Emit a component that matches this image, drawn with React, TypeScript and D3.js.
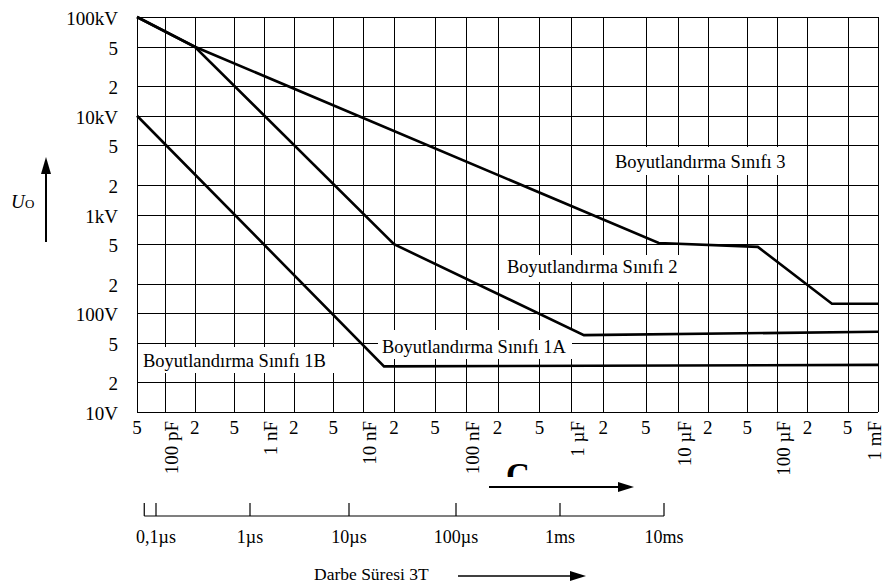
import React from "react";
import * as d3 from "d3";

// ---- grid / tick values ----
const capGrid = [5e-11, 1e-10, 2e-10, 5e-10, 1e-9, 2e-9, 5e-9, 1e-8, 2e-8, 5e-8, 1e-7, 2e-7, 5e-7, 1e-6, 2e-6, 5e-6, 1e-5, 2e-5, 5e-5, 1e-4, 2e-4, 5e-4, 1e-3];
const capLabels = ["5", "100 pF", "2", "5", "1 nF", "2", "5", "10 nF", "2", "5", "100 nF", "2", "5", "1 µF", "2", "5", "10 µF", "2", "5", "100 µF", "2", "5", "1 mF"];
const voltGrid = [10, 20, 50, 100, 200, 500, 1000, 2000, 5000, 1e4, 2e4, 5e4, 1e5];
const voltLabels = ["10V", "2", "5", "100V", "2", "5", "1kV", "2", "5", "10kV", "2", "5", "100kV"];
const timeTicks = [1e-7, 1e-6, 1e-5, 1e-4, 1e-3, 1e-2];
const timeLabels = ["0,1µs", "1µs", "10µs", "100µs", "1ms", "10ms"];
const timeAxisStart = 7.5e-8;

// ---- series (capacitance in F, voltage in V) ----
const class3C = [5e-11, 2e-10, 6.6e-6, 6.4e-5, 3.5e-4, 1e-3];
const class3U = [1e5, 5e4, 515, 470, 125, 125];
const class2C = [5e-11, 2e-10, 2e-8, 1.32e-6, 1e-3];
const class2U = [1e5, 5e4, 500, 60, 65];
const class1BC = [5e-11, 1.6e-8, 1e-3];
const class1BU = [1e4, 29, 30];

const FONT = "'Liberation Serif', 'Times New Roman', serif";

export default function App() {
  const x = d3
    .scaleLog()
    .domain([5e-11, 1e-10, 1e-9, 1e-8, 1e-7, 1e-6, 1e-5, 1e-4, 1e-3])
    .range([137, 165, 264, 363, 466, 571, 678, 777, 878]);
  const y = d3.scaleLog().domain([10, 1e5]).range([412, 17]);
  const t = d3
    .scaleLog()
    .domain([1e-7, 1e-6, 1e-5, 1e-4, 1e-3, 1e-2])
    .range([156, 250, 349, 456, 560, 664]);

  const line = d3
    .line<[number, number]>()
    .x((d) => x(d[0]))
    .y((d) => y(d[1]));
  const mk = (c: number[], u: number[]) => c.map((v, i) => [v, u[i]] as [number, number]);
  const series = [mk(class3C, class3U), mk(class2C, class2U), mk(class1BC, class1BU)];

  const x0 = x(capGrid[0]);
  const x1 = x(capGrid[capGrid.length - 1]);
  const yTop = y(voltGrid[voltGrid.length - 1]);
  const yBot = y(voltGrid[0]);

  const boxes = [
    { x: 610, y: 147, w: 180, h: 28, tx: 615, ty: 168, text: "Boyutlandırma Sınıfı 3" },
    { x: 503, y: 255, w: 179, h: 27, tx: 507, ty: 273, text: "Boyutlandırma Sınıfı 2" },
    { x: 140, y: 347, w: 197, h: 26, tx: 143, ty: 367, text: "Boyutlandırma Sınıfı 1B" },
    { x: 378, y: 330, w: 194, h: 29, tx: 382, ty: 353, text: "Boyutlandırma Sınıfı 1A" },
  ];

  return (
    <svg
      width={888}
      height={585}
      style={{ position: "absolute", left: 0, top: 0, background: "#fff" }}
      fontFamily={FONT}
    >
      <rect x={0} y={0} width={888} height={585} fill="#fff" />
      <defs>
        <clipPath id="cclip">
          <rect x={490} y={440} width={60} height={37} />
        </clipPath>
      </defs>
      {/* grid */}
      <g stroke="#000" strokeWidth={1} shapeRendering="crispEdges">
        {capGrid.map((c, i) => (
          <line key={"v" + i} x1={Math.round(x(c)) + 0.5} x2={Math.round(x(c)) + 0.5} y1={yTop} y2={yBot} />
        ))}
        {voltGrid.map((v, i) => (
          <line key={"h" + i} x1={x0} x2={x1} y1={Math.round(y(v)) + 0.5} y2={Math.round(y(v)) + 0.5} />
        ))}
      </g>
      {/* label boxes */}
      {boxes.map((b, i) => (
        <rect key={"b" + i} x={b.x} y={b.y} width={b.w} height={b.h} fill="#fff" />
      ))}
      {/* curves */}
      {series.map((s, i) => (
        <path key={"s" + i} d={line(s) || ""} fill="none" stroke="#000" strokeWidth={2.6} strokeLinejoin="miter" />
      ))}
      {boxes.map((b, i) => (
        <text key={"t" + i} x={b.tx} y={b.ty} fontSize={18.5} fill="#000">
          {b.text}
        </text>
      ))}
      {/* y labels */}
      {voltGrid.map((v, i) => (
        <text key={"yl" + i} x={118} y={y(v) + 8} textAnchor="end" fontSize={19} fill="#000">
          {voltLabels[i]}
        </text>
      ))}
      {/* x labels */}
      {capGrid.map((c, i) =>
        capLabels[i].length > 1 ? (
          <text
            key={"xl" + i}
            transform={`translate(${Math.min(x(c) + 13, 881)},421) rotate(-90)`}
            textAnchor="end"
            fontSize={19}
            fill="#000"
          >
            {capLabels[i]}
          </text>
        ) : (
          <text key={"xl" + i} x={x(c)} y={434} textAnchor="middle" fontSize={19} fill="#000">
            {capLabels[i]}
          </text>
        )
      )}
      {/* U_O axis title */}
      <text x={11} y={208} fontSize={19} fontStyle="italic" fill="#000">
        U
      </text>
      <text x={25} y={208} fontSize={13} fill="#000">
        O
      </text>
      <line x1={46} x2={46} y1={242} y2={170} stroke="#000" strokeWidth={2} />
      <path d="M46,157 L51,174 L41,174 Z" fill="#000" />
      {/* C arrow */}
      <text x={506} y={486} fontSize={33} fontWeight="bold" fill="#000" clipPath="url(#cclip)">
        C
      </text>
      <line x1={489} x2={620} y1={487} y2={487} stroke="#000" strokeWidth={2} />
      <path d="M634,487 L618,482 L618,492 Z" fill="#000" />
      {/* time axis */}
      <g stroke="#000" strokeWidth={1.2}>
        <line x1={t(timeAxisStart)} x2={t(timeTicks[timeTicks.length - 1])} y1={516} y2={516} />
        <line x1={t(timeAxisStart)} x2={t(timeAxisStart)} y1={503} y2={516} />
        {timeTicks.map((v, i) => (
          <line key={"tt" + i} x1={t(v)} x2={t(v)} y1={503} y2={516} />
        ))}
      </g>
      {timeTicks.map((v, i) => (
        <text key={"tl" + i} x={t(v)} y={543} textAnchor="middle" fontSize={18} fill="#000">
          {timeLabels[i]}
        </text>
      ))}
      <text x={314} y={580} fontSize={17.5} fill="#000">
        Darbe Süresi 3T
      </text>
      <line x1={458} x2={572} y1={576} y2={576} stroke="#000" strokeWidth={1.5} />
      <path d="M586,576 L570,571 L570,581 Z" fill="#000" />
    </svg>
  );
}
